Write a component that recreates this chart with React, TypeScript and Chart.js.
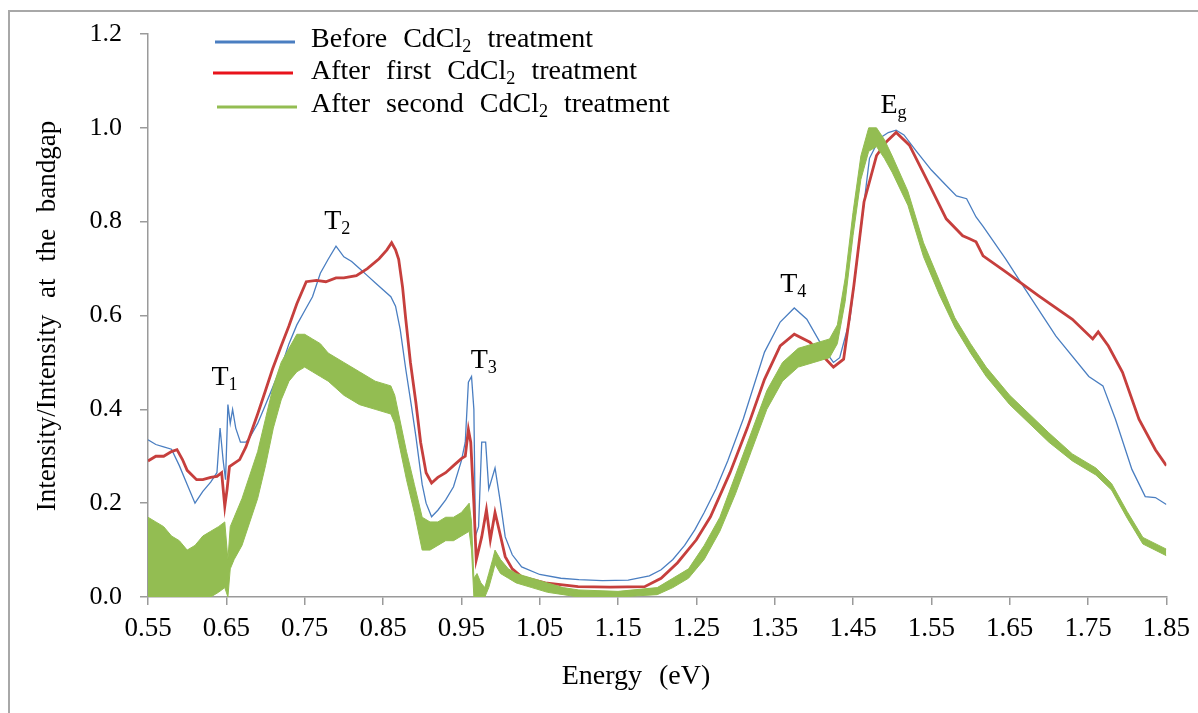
import React, { useEffect, useRef } from "react";
import { Chart, registerables } from "chart.js";

Chart.register(...registerables);

// ---------- data ----------
const blueEnergy = [
  0.55, 0.56, 0.57, 0.58, 0.59, 0.6, 0.61, 0.62, 0.63, 0.638, 0.642, 0.646, 0.649, 0.652, 0.655, 0.658,
  0.662, 0.668, 0.675, 0.68, 0.69, 0.7, 0.71, 0.72, 0.73, 0.74, 0.75, 0.76, 0.77, 0.78, 0.79, 0.8,
  0.81, 0.82, 0.83, 0.84, 0.85, 0.86, 0.866, 0.872, 0.879, 0.886, 0.892, 0.9, 0.905, 0.912, 0.92, 0.93,
  0.94, 0.95, 0.955, 0.959, 0.963, 0.966, 0.968, 0.972, 0.976, 0.981, 0.985, 0.993, 1.0, 1.006, 1.015,
  1.027, 1.05, 1.077, 1.1, 1.13, 1.163, 1.19, 1.205, 1.22, 1.235, 1.248, 1.26, 1.275, 1.29, 1.31, 1.337,
  1.357, 1.375, 1.391, 1.413, 1.425, 1.433, 1.446, 1.459, 1.471, 1.484, 1.495, 1.505, 1.515, 1.531,
  1.55, 1.569, 1.582, 1.595, 1.607, 1.616, 1.645, 1.667, 1.709, 1.751, 1.769, 1.785, 1.806, 1.823,
  1.836, 1.85,
];
const blueIntensity = [
  0.335, 0.325, 0.32, 0.315, 0.28, 0.24, 0.2, 0.225, 0.245, 0.265, 0.36, 0.29, 0.25, 0.41, 0.37, 0.4,
  0.36, 0.33, 0.33, 0.34, 0.37, 0.41, 0.45, 0.49, 0.54, 0.58, 0.61, 0.64, 0.69, 0.72, 0.748, 0.725,
  0.715, 0.7, 0.685, 0.67, 0.655, 0.64, 0.62, 0.57, 0.486, 0.41, 0.342, 0.24, 0.2, 0.171, 0.185, 0.207,
  0.235, 0.29, 0.33, 0.458, 0.47, 0.4, 0.13, 0.15, 0.33, 0.33, 0.23, 0.275, 0.2, 0.128, 0.09,
  0.064, 0.048, 0.04, 0.037, 0.035, 0.036, 0.045, 0.058, 0.08, 0.11, 0.143, 0.18, 0.23, 0.29, 0.38, 0.522,
  0.586, 0.616, 0.592, 0.528, 0.5, 0.51, 0.592, 0.77, 0.935, 0.978, 0.99, 0.995, 0.985, 0.95,
  0.91, 0.877, 0.855, 0.849, 0.81, 0.79, 0.72, 0.663, 0.556, 0.47, 0.45, 0.379, 0.272, 0.214,
  0.212, 0.197,
];

const redEnergy = [
  0.55, 0.56, 0.57, 0.58, 0.587, 0.594, 0.6, 0.612, 0.62, 0.63, 0.638, 0.644, 0.648, 0.651, 0.654, 0.667,
  0.675, 0.683, 0.69, 0.7, 0.709, 0.72, 0.73, 0.74, 0.752, 0.765, 0.777, 0.79, 0.8, 0.816, 0.83, 0.845,
  0.855, 0.861, 0.866, 0.87, 0.875, 0.879, 0.885, 0.892, 0.898, 0.905, 0.912, 0.92, 0.93, 0.94, 0.95,
  0.955, 0.959, 0.962, 0.966, 0.969, 0.976, 0.982, 0.987, 0.993, 1.0, 1.006, 1.015, 1.027, 1.057, 1.099,
  1.14, 1.184, 1.205, 1.226, 1.25, 1.268, 1.293, 1.315, 1.337, 1.357, 1.375, 1.395, 1.413, 1.425, 1.438,
  1.451, 1.464, 1.48, 1.493, 1.505, 1.522, 1.535, 1.548, 1.569, 1.59, 1.598, 1.607, 1.616, 1.645, 1.687,
  1.73, 1.756, 1.763, 1.776, 1.794, 1.815, 1.836, 1.85,
];
const redIntensity = [
  0.29, 0.3, 0.3, 0.31, 0.314, 0.293, 0.27, 0.25, 0.25, 0.255, 0.257, 0.265, 0.193, 0.23, 0.278, 0.293,
  0.32, 0.357, 0.39, 0.44, 0.486, 0.535, 0.578, 0.625, 0.672, 0.675, 0.672, 0.68, 0.68, 0.685, 0.7, 0.721,
  0.74, 0.755, 0.74, 0.72, 0.66, 0.593, 0.5, 0.414, 0.33, 0.265, 0.243, 0.255, 0.265, 0.28, 0.295,
  0.3, 0.357, 0.33, 0.2, 0.079, 0.128, 0.186, 0.122, 0.18, 0.13, 0.086, 0.06, 0.043, 0.03, 0.022,
  0.021, 0.022, 0.04, 0.073, 0.122, 0.171, 0.265, 0.36, 0.464, 0.535, 0.56, 0.543, 0.511, 0.49, 0.507,
  0.663, 0.842, 0.941, 0.971, 0.99, 0.963, 0.92, 0.877, 0.806, 0.77, 0.764, 0.757, 0.727, 0.693, 0.642,
  0.592, 0.55, 0.565, 0.535, 0.479, 0.379, 0.314, 0.28,
];

// green (noisy) spectrum given as the lower and upper edge of its noise band
const greenEnergy = [
  0.55, 0.56, 0.57, 0.58, 0.59, 0.6, 0.61, 0.62, 0.63, 0.64, 0.648, 0.652, 0.655, 0.66, 0.67, 0.68,
  0.69, 0.7, 0.71, 0.72, 0.73, 0.74, 0.75, 0.76, 0.77, 0.78, 0.8, 0.82, 0.84, 0.86, 0.865, 0.87, 0.88,
  0.89, 0.9, 0.91, 0.92, 0.93, 0.94, 0.95, 0.96, 0.963, 0.966, 0.97, 0.975, 0.98, 0.985, 0.99, 0.993,
  1.0, 1.01, 1.02, 1.04, 1.06, 1.08, 1.1, 1.15, 1.2, 1.22, 1.24, 1.26, 1.28, 1.3, 1.32, 1.34, 1.36,
  1.38, 1.4, 1.42, 1.43, 1.44, 1.45, 1.46, 1.47, 1.48, 1.49, 1.5, 1.52, 1.54, 1.56, 1.58, 1.6, 1.62,
  1.65, 1.7, 1.73, 1.76, 1.78, 1.8, 1.82, 1.85,
];
const greenLow = [
  0.0, 0.0, 0.0, 0.0, 0.0, 0.0, 0.0, 0.0, 0.0, 0.01, 0.02, 0.0, 0.06, 0.08, 0.11, 0.16,
  0.21, 0.28, 0.36, 0.42, 0.46, 0.48, 0.49, 0.48, 0.47, 0.46, 0.43, 0.41, 0.4, 0.39, 0.37, 0.33, 0.25,
  0.18, 0.1, 0.1, 0.11, 0.12, 0.12, 0.13, 0.14, 0.1, 0.0, 0.0, 0.0, 0.0, 0.02, 0.05, 0.07,
  0.05, 0.04, 0.03, 0.02, 0.01, 0.005, 0.0, 0.0, 0.005, 0.02, 0.04, 0.08, 0.14, 0.22, 0.31, 0.4, 0.46,
  0.49, 0.5, 0.51, 0.54, 0.63, 0.77, 0.89, 0.95, 0.96, 0.935, 0.905, 0.835, 0.725, 0.645, 0.575, 0.52, 0.47,
  0.41, 0.33, 0.29, 0.26, 0.228, 0.168, 0.113, 0.088,
];
const greenHigh = [
  0.17, 0.16, 0.15, 0.13, 0.12, 0.1, 0.11, 0.13, 0.14, 0.15, 0.16, 0.08, 0.15, 0.17, 0.21, 0.26,
  0.31, 0.38, 0.45, 0.5, 0.53, 0.56, 0.56, 0.55, 0.54, 0.52, 0.5, 0.48, 0.46, 0.45, 0.43, 0.39, 0.31,
  0.24, 0.17, 0.16, 0.16, 0.17, 0.17, 0.18, 0.2, 0.16, 0.04, 0.05, 0.03, 0.02, 0.05, 0.08, 0.1,
  0.08, 0.06, 0.05, 0.04, 0.03, 0.02, 0.015, 0.012, 0.02, 0.04, 0.06, 0.11, 0.17, 0.26, 0.35, 0.44, 0.5,
  0.53, 0.54, 0.55, 0.58, 0.68, 0.82, 0.94, 1.0, 1.0, 0.975, 0.94, 0.865, 0.755, 0.675, 0.595, 0.54, 0.49,
  0.43, 0.35, 0.305, 0.275, 0.242, 0.182, 0.127, 0.102,
];

const seriesLabels = [
  "Before CdCl2 treatment",
  "After first CdCl2 treatment",
  "After second CdCl2 treatment",
];

// peak annotations: label, subscript, energy, intensity (text baseline)
const peakNames = ["T", "T", "T", "T", "E"];
const peakSubs = ["1", "2", "3", "4", "g"];
const peakEnergy = [0.631, 0.775, 0.962, 1.357, 1.485];
const peakLevel = [0.451, 0.785, 0.488, 0.65, 1.031];

const BLUE = "#4A7EC1";
const RED = "#C63F3D";
const RED_LEGEND = "#E8131B";
const GREEN = "#93BD52";
const FONT = '"Liberation Serif", "Times New Roman", serif';

type Part = { t: string; sub?: boolean };

function richWidth(ctx: CanvasRenderingContext2D, parts: Part[], size: number, gap: number) {
  let w = 0;
  for (const p of parts) {
    ctx.font = `${p.sub ? size * 0.65 : size}px ${FONT}`;
    const words = p.t.split(" ");
    words.forEach((word, i) => {
      if (i > 0) w += ctx.measureText(" ").width + gap;
      w += ctx.measureText(word).width;
    });
  }
  return w;
}

function drawRich(ctx: CanvasRenderingContext2D, x: number, y: number, parts: Part[], size: number, gap: number) {
  let cx = x;
  for (const p of parts) {
    const fs = p.sub ? size * 0.65 : size;
    ctx.font = `${fs}px ${FONT}`;
    const dy = p.sub ? size * 0.18 : 0;
    const words = p.t.split(" ");
    words.forEach((word, i) => {
      if (i > 0) cx += ctx.measureText(" ").width + gap;
      ctx.fillText(word, cx, y + dy);
      cx += ctx.measureText(word).width;
    });
  }
}

function splitSub(label: string): Part[] {
  const i = label.indexOf("CdCl2");
  return [{ t: label.slice(0, i + 4) }, { t: "2", sub: true }, { t: label.slice(i + 5) }];
}

const textPlugin = {
  id: "texts",
  afterDraw(chart: any) {
    const ctx: CanvasRenderingContext2D = chart.ctx;
    const xs = chart.scales.x;
    const ys = chart.scales.y;
    ctx.save();
    ctx.fillStyle = "#000";
    ctx.textAlign = "left";
    ctx.textBaseline = "alphabetic";

    // peak labels
    for (let i = 0; i < peakNames.length; i++) {
      const px = xs.getPixelForValue(peakEnergy[i]);
      const py = ys.getPixelForValue(peakLevel[i]);
      drawRich(ctx, px, py, [{ t: peakNames[i] }, { t: peakSubs[i], sub: true }], 28, 0);
    }

    // legend
    const legendColors = [BLUE, RED_LEGEND, GREEN];
    const lineY = [42, 73, 107];
    const baseY = [47, 79, 111.5];
    const lineX0 = [215, 213, 217];
    for (let i = 0; i < 3; i++) {
      ctx.strokeStyle = legendColors[i];
      ctx.lineWidth = 3;
      ctx.beginPath();
      ctx.moveTo(lineX0[i], lineY[i]);
      ctx.lineTo(lineX0[i] + 80, lineY[i]);
      ctx.stroke();
      drawRich(ctx, 311, baseY[i], splitSub(seriesLabels[i]), 28, 9);
    }

    // x-axis title
    const xt: Part[] = [{ t: "Energy (eV)" }];
    const xw = richWidth(ctx, xt, 28, 10);
    drawRich(ctx, 636 - xw / 2, 684, xt, 28, 10);

    // y-axis title
    const yt: Part[] = [{ t: "Intensity/Intensity at the bandgap" }];
    const yw = richWidth(ctx, yt, 27, 10);
    ctx.translate(55, 316);
    ctx.rotate(-Math.PI / 2);
    drawRich(ctx, -yw / 2, 0, yt, 27, 10);
    ctx.restore();
  },
};

export default function App() {
  const ref = useRef<HTMLCanvasElement | null>(null);

  useEffect(() => {
    if (!ref.current) return;
    const pts = (xs: number[], ys: number[]) => xs.map((x, i) => ({ x, y: ys[i] }));
    const chart = new Chart(ref.current, {
      type: "line",
      data: {
        datasets: [
          {
            label: seriesLabels[2] + " (upper)",
            data: pts(greenEnergy, greenHigh),
            borderColor: GREEN,
            borderWidth: 1,
            pointRadius: 0,
            fill: false,
            order: 0,
          },
          {
            label: seriesLabels[2],
            data: pts(greenEnergy, greenLow),
            borderColor: GREEN,
            backgroundColor: GREEN,
            borderWidth: 1,
            pointRadius: 0,
            fill: "-1",
            order: 0,
          },
          {
            label: seriesLabels[1],
            data: pts(redEnergy, redIntensity),
            borderColor: RED,
            borderWidth: 2.8,
            pointRadius: 0,
            fill: false,
            order: 1,
          },
          {
            label: seriesLabels[0],
            data: pts(blueEnergy, blueIntensity),
            borderColor: BLUE,
            borderWidth: 1.3,
            pointRadius: 0,
            fill: false,
            order: 2,
          },
        ],
      },
      options: {
        animation: false,
        responsive: false,
        maintainAspectRatio: false,
        events: [],
        layout: { padding: { top: 34, right: 27, left: 0, bottom: 0 } },
        plugins: { legend: { display: false }, tooltip: { enabled: false }, title: { display: false } },
        elements: { line: { tension: 0 } },
        scales: {
          x: {
            type: "linear",
            min: 0.55,
            max: 1.85,
            ticks: {
              stepSize: 0.1,
              color: "#000",
              font: { family: FONT, size: 27 },
              padding: 8,
              maxRotation: 0,
              autoSkip: false,
              callback: (v: any) => Number(v).toFixed(2),
            },
            grid: { drawOnChartArea: false, drawTicks: true, tickLength: 8, color: "#9a9a9a", lineWidth: 1.5 },
            border: { display: true, color: "#9a9a9a", width: 1.5 },
            afterFit: (s: any) => {
              s.height = 116;
            },
          },
          y: {
            type: "linear",
            min: 0,
            max: 1.2,
            ticks: {
              stepSize: 0.2,
              color: "#000",
              font: { family: FONT, size: 26 },
              padding: 18,
              callback: (v: any) => Number(v).toFixed(1),
            },
            grid: { drawOnChartArea: false, drawTicks: true, tickLength: 8, color: "#9a9a9a", lineWidth: 1.5 },
            border: { display: true, color: "#9a9a9a", width: 1.5 },
            afterFit: (s: any) => {
              s.width = 148;
            },
          },
        },
      },
      plugins: [textPlugin],
    });
    return () => chart.destroy();
  }, []);

  return (
    <div style={{ position: "fixed", left: 0, top: 0, width: 1198, height: 713, background: "#fff", overflow: "hidden" }}>
      <div
        style={{
          position: "absolute",
          left: 8,
          top: 10,
          width: 1300,
          height: 800,
          borderLeft: "2px solid #a8a8a8",
          borderTop: "2px solid #a8a8a8",
        }}
      />
      <canvas ref={ref} width={1198} height={713} style={{ position: "absolute", left: 0, top: 0, width: 1198, height: 713 }} />
    </div>
  );
}
